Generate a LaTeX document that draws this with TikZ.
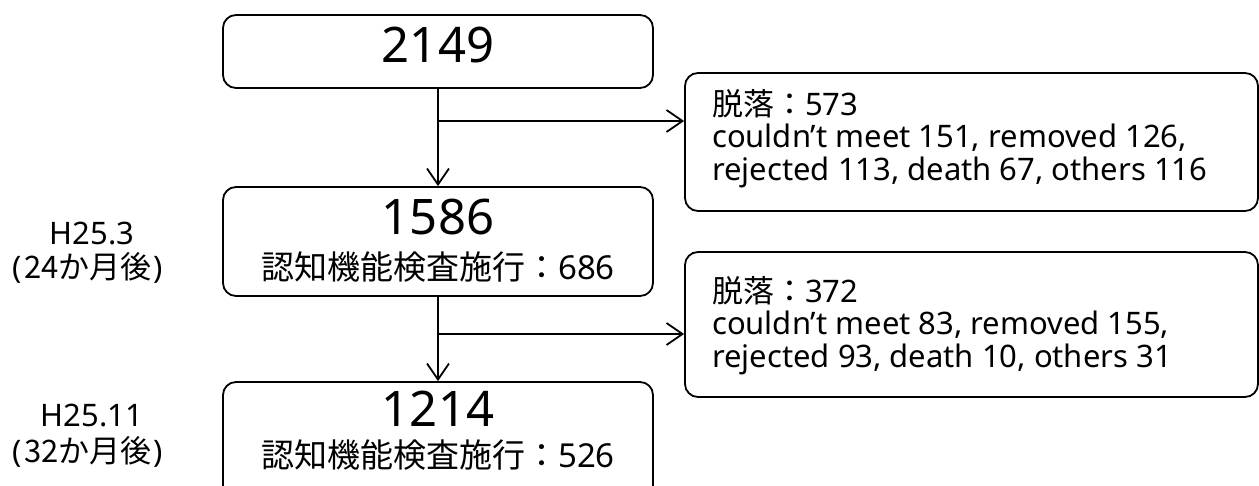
\documentclass[tikz,border=0pt]{standalone}
\usepackage{fontspec}
\setmainfont{Noto Sans}
\newfontfamily\jp{Noto Sans CJK JP}
\usetikzlibrary{arrows.meta}
\tikzset{
  box/.style={draw, line width=1.8pt, rounded corners=13pt, inner sep=0pt},
  arr/.style={line width=1.8pt, -{Straight Barb[length=16pt,width=22pt,line width=1.8pt]}},
  big/.style={font=\fontsize{49}{49}\selectfont, inner sep=0pt},
  mid/.style={font=\fontsize{33}{33}\selectfont, inner sep=0pt},
  det/.style={font=\fontsize{31}{31}\selectfont, inner sep=0pt, anchor=west},
  lab/.style={font=\fontsize{31}{31}\selectfont, inner sep=0pt, text height=22pt, text depth=4pt},
}
\begin{document}
\begin{tikzpicture}[x=1pt,y=-1pt]
\clip (0,0) rectangle (1259,486);
\fill[white] (0,0) rectangle (1259,486);
% boxes
\node[box, minimum width=430pt, minimum height=73pt] (b1) at (438,51.5) {};
\node[box, minimum width=430pt, minimum height=109pt] (b2) at (438,241.5) {};
\node[box, minimum width=430pt, minimum height=128pt] (b3) at (438,446) {};
\node[box, minimum width=573pt, minimum height=138pt] (bA) at (971.5,142) {};
\node[box, minimum width=573pt, minimum height=145pt] (bB) at (971.5,324.5) {};
% texts
\node[big] (t1) at (438,45) {2149};
\node[big] (t2) at (438,217) {1586};
\node[mid] (t2b) at (438,267) {{\jp 認知機能検査施行：}686};
\node[big] (t3) at (438,409) {1214};
\node[mid] (t3b) at (438,455) {{\jp 認知機能検査施行：}526};
\node[det] (a1) at (712,104) {{\jp 脱落：}573};
\node[det] (a2) at (712,138) {couldn’t meet 151, removed 126,};
\node[det] (a3) at (712,172) {rejected 113, death 67, others 116};
\node[det] (c1) at (712,291) {{\jp 脱落：}372};
\node[det] (c2) at (712,325) {couldn’t meet 83, removed 155,};
\node[det] (c3) at (712,359) {rejected 93, death 10, others 31};
\node[lab] (l1) at (92,236) {H25.3};
\node[lab] (l2) at (88,270) {(\hspace{2pt}{\jp 24か月後}\hspace{2pt})};
\node[lab] (l3) at (92,417) {H25.11};
\node[lab] (l4) at (88,453) {(\hspace{2pt}{\jp 32か月後}\hspace{2pt})};
% connectors
\coordinate (j1) at (438,121);
\coordinate (j2) at (438,334);
\draw[arr] (b1.south) -- (b2.north);
\draw[arr] (j1) -- (j1 -| bA.west);
\draw[arr] (b2.south) -- (b3.north);
\draw[arr] (j2) -- (j2 -| bB.west);
\end{tikzpicture}
\end{document}
